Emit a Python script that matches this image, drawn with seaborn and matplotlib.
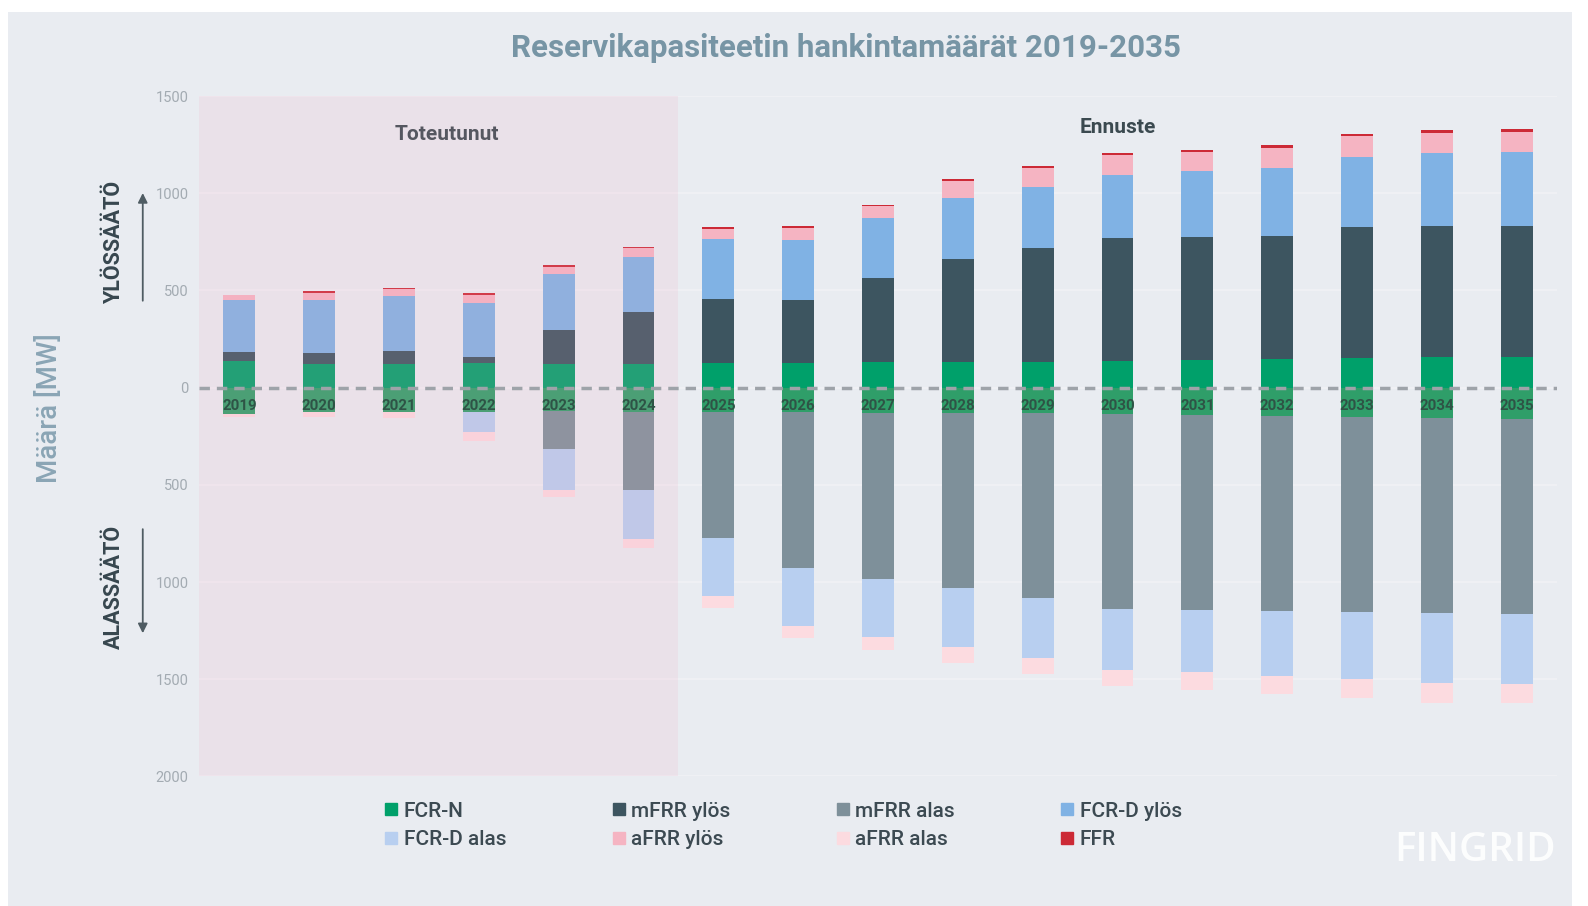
import numpy as np
import pandas as pd
import seaborn as sns
import matplotlib.pyplot as plt
from matplotlib.lines import Line2D
from matplotlib.patches import FancyArrowPatch, Rectangle

# data (MW)
years = [str(y) for y in range(2019, 2036)]
fcr_n = [138, 124, 124, 125, 120, 124, 126, 127, 132, 132, 132, 138, 141, 148, 151, 158, 160]
mfrr_ylos = [43, 55, 62, 32, 179, 263, 330, 323, 431, 531, 584, 634, 636, 634, 673, 675, 674]
fcrd_ylos = [270, 273, 287, 277, 284, 287, 308, 309, 309, 314, 314, 323, 337, 347, 361, 373, 378]
afrr_ylos = [26, 35, 32, 44, 38, 43, 53, 60, 60, 84, 100, 100, 96, 105, 107, 103, 103]
ffr = [0, 8, 8, 7, 9, 9, 10, 10, 10, 10, 10, 12, 14, 12, 14, 14, 17]
mfrr_alas = [0, 0, 0, 0, 197, 405, 650, 800, 850, 897, 950, 1000, 1001, 1001, 1004, 1003, 1004]
fcrd_alas = [0, 0, 0, 105, 208, 249, 297, 301, 303, 303, 307, 314, 321, 333, 342, 359, 360]
afrr_alas = [15, 25, 30, 45, 38, 46, 60, 62, 63, 86, 82, 85, 94, 96, 98, 100, 100]

yticks = [-2000, -1500, -1000, -500, 0, 500, 1000, 1500]

c_fcrn = '#00a06a'
c_fcrn_dn = '#2f9e69'
c_mfrr_up = '#3d5560'
c_mfrr_dn = '#7e909a'
c_fcrd_up = '#80b2e4'
c_fcrd_dn = '#b8cff0'
c_afrr_up = '#f5b4c2'
c_afrr_dn = '#fcdbe0'
c_ffr = '#cc2a36'
bg = '#e9ecf1'

df = pd.DataFrame({'vuosi': years, 'fcr_n': fcr_n, 'mfrr_ylos': mfrr_ylos,
                   'fcrd_ylos': fcrd_ylos, 'afrr_ylos': afrr_ylos, 'ffr': ffr,
                   'mfrr_alas': mfrr_alas, 'fcrd_alas': fcrd_alas, 'afrr_alas': afrr_alas})

sns.set_style('white')
plt.rcParams['font.family'] = ['Roboto', 'DejaVu Sans']

fig = plt.figure(figsize=(15.88, 9.06), dpi=100, facecolor='white')
fig.patches.append(Rectangle((0.005, 0.0), 0.985, 0.987, transform=fig.transFigure,
                             facecolor=bg, edgecolor='none', zorder=-10))
ax = fig.add_axes([0.1256, 0.143, 0.8546, 0.751])
ax.set_facecolor(bg)

# ylös: kumulatiiviset pinot, suurin ensin
up_layers = [('fcr_n', c_fcrn), ('mfrr_ylos', c_mfrr_up), ('fcrd_ylos', c_fcrd_up),
             ('afrr_ylos', c_afrr_up), ('ffr', c_ffr)]
cum = df[[k for k, _ in up_layers]].cumsum(axis=1)
for k, c in reversed(up_layers):
    sns.barplot(x=df['vuosi'], y=cum[k], color=c, width=0.4, saturation=1,
                linewidth=0, errorbar=None, ax=ax, zorder=3)

# alas
dn_layers = [('fcr_n', c_fcrn_dn), ('mfrr_alas', c_mfrr_dn), ('fcrd_alas', c_fcrd_dn),
             ('afrr_alas', c_afrr_dn)]
cum_dn = -df[[k for k, _ in dn_layers]].cumsum(axis=1)
for k, c in reversed(dn_layers):
    sns.barplot(x=df['vuosi'], y=cum_dn[k], color=c, width=0.4, saturation=1,
                linewidth=0, errorbar=None, ax=ax, zorder=3)

# toteutunut-alue
ax.axvspan(-0.5, 5.5, color='#f0a5bf', alpha=0.15, lw=0, zorder=4)

ax.axhline(0, color='#9ea3a9', lw=2.5, ls=(0, (3, 2)), zorder=5)
for i, y in enumerate(years):
    ax.text(i, -95, y, ha='center', va='center', fontsize=10.8, fontweight='bold',
            color='#2e5446', zorder=6)

ax.text(2.6, 1300, 'Toteutunut', ha='center', va='center', fontsize=15,
        fontweight='bold', color='#3b4a50')
ax.text(11, 1340, 'Ennuste', ha='center', va='center', fontsize=15,
        fontweight='bold', color='#3b4a50')

ax.set_xlim(-0.5, 16.5)
ax.set_ylim(-2000, 1500)
ax.set_xticks([])
ax.set_xlabel('')
ax.set_ylabel('')
ax.set_yticks(yticks)
ax.set_yticklabels([str(abs(t)) for t in yticks], color='#a3abb2', fontsize=10.5)
ax.tick_params(axis='y', length=0, pad=8)
ax.grid(axis='y', color='#f1f2f5', lw=1.2, zorder=0)
ax.set_axisbelow(True)
sns.despine(ax=ax, left=True, bottom=True)

fig.text(0.533, 0.947, 'Reservikapasiteetin hankintamäärät 2019-2035', ha='center',
         va='center', fontsize=22.5, fontweight='bold', color='#7795a5')
fig.text(0.031, 0.55, 'Määrä [MW]', rotation=90, ha='center', va='center',
         fontsize=20, fontweight='medium', color='#8aa5b5')
fig.text(0.072, 0.732, 'YLÖSSÄÄTÖ', rotation=90, ha='center', va='center',
         fontsize=15.5, fontweight='bold', color='#37474f')
fig.text(0.072, 0.352, 'ALASSÄÄTÖ', rotation=90, ha='center', va='center',
         fontsize=15.5, fontweight='bold', color='#37474f')
for y0, y1 in [(0.665, 0.79), (0.419, 0.298)]:
    fig.add_artist(FancyArrowPatch((0.0899, y0), (0.0899, y1), transform=fig.transFigure,
                                   arrowstyle='-|>', mutation_scale=14, color='#4f5c63', lw=1.3))

handles = [Line2D([], [], marker='s', ls='none', markersize=9, color=c) for c in
           [c_fcrn, c_fcrd_dn, c_mfrr_up, c_afrr_up, c_mfrr_dn, c_afrr_dn, c_fcrd_up, c_ffr]]
labels = ['FCR-N', 'FCR-D alas', 'mFRR ylös', 'aFRR ylös', 'mFRR alas', 'aFRR alas',
          'FCR-D ylös', 'FFR']
leg = fig.legend(handles, labels, ncol=4, loc='center', bbox_to_anchor=(0.492, 0.089),
                 frameon=False, fontsize=15, handletextpad=0.1, columnspacing=4.9,
                 labelspacing=0.45, handlelength=1.0)
for t in leg.get_texts():
    t.set_color('#3c4a52')
    t.set_fontweight('medium')

fig.text(0.929, 0.061, 'FINGRID', ha='center', va='center', fontsize=29,
         fontweight='semibold', family=['Open Sans', 'DejaVu Sans'], color='white', alpha=0.9)

fig.savefig('out.png', dpi=100, facecolor='white')
